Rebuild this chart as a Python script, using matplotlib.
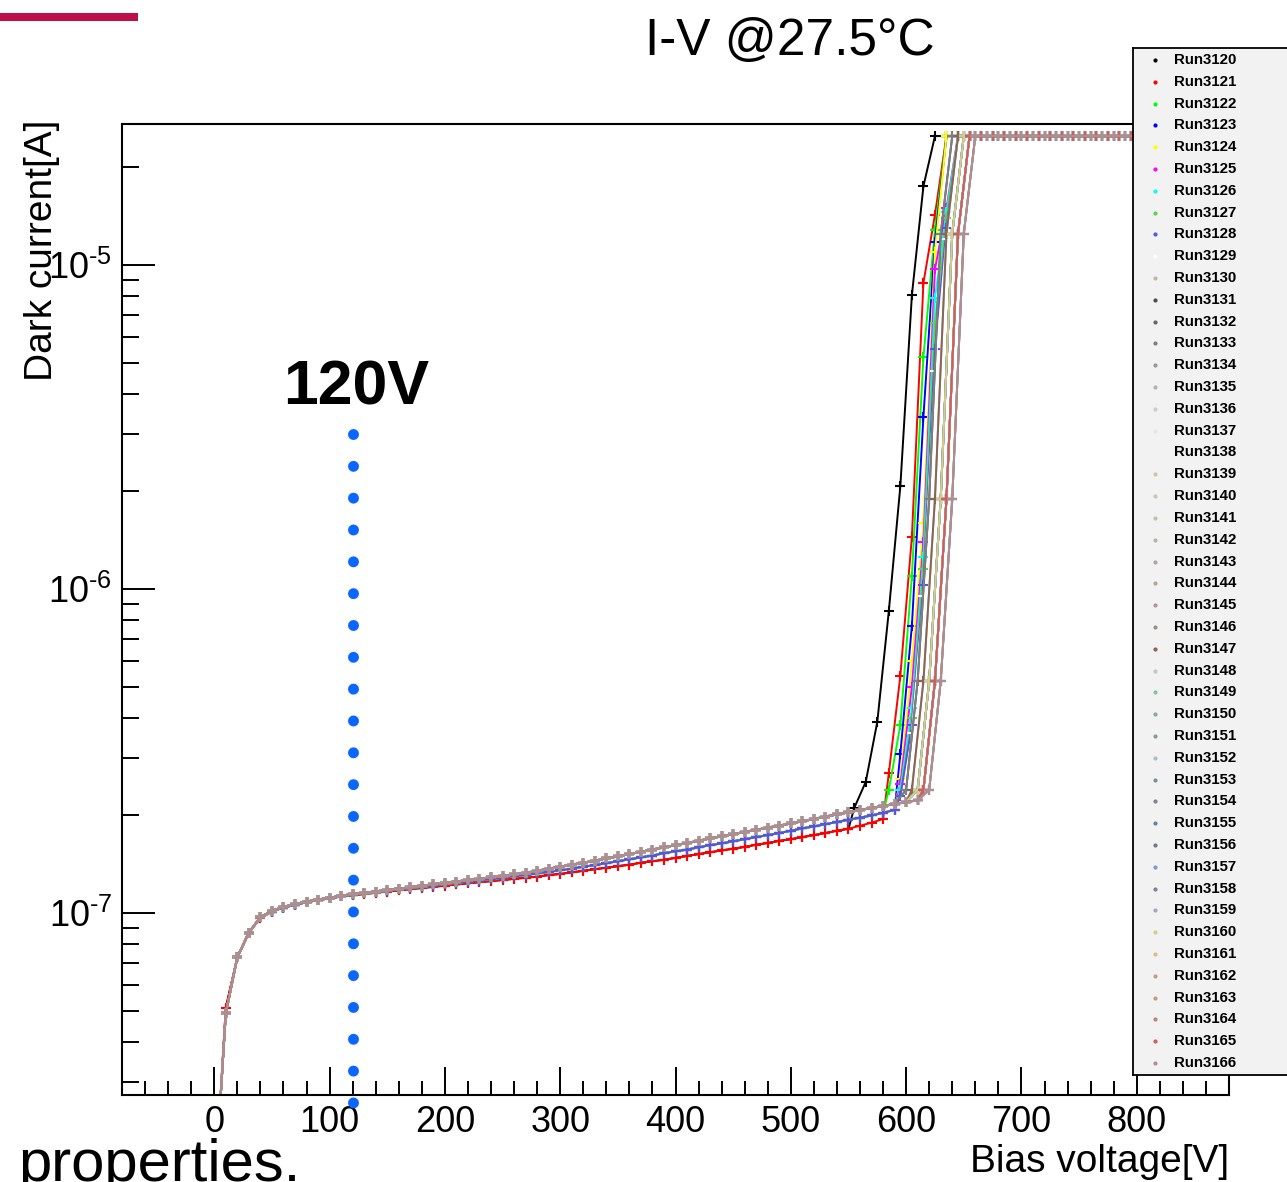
import matplotlib
matplotlib.use('Agg')
import matplotlib.pyplot as plt
from matplotlib.ticker import MultipleLocator, FixedLocator, NullFormatter, FixedFormatter
from matplotlib.patches import Rectangle

W, H = 1287, 1182
plt.rcParams['font.family'] = ['Liberation Sans', 'DejaVu Sans']
plt.rcParams['mathtext.fontset'] = 'custom'
plt.rcParams['mathtext.rm'] = 'Liberation Sans'
plt.rcParams['mathtext.default'] = 'regular'
plt.rcParams['axes.unicode_minus'] = False

# ---------------- data ----------------
run_names = ['Run%d' % n for n in range(3120, 3167)]
run_colors = ['#000000', '#ff0000', '#00ff00', '#0000ff', '#ffff00', '#ff00ff', '#00ffff',
              '#59d454', '#5954d9', '#fefefe', '#c0b6ac', '#4d4d4d', '#666666', '#7f7f7f',
              '#999999', '#b3b3b3', '#cccccc', '#e6e6e6', '#f2f2f2', '#ccc7ab', '#ccc7ab',
              '#c2bfa8', '#bab5a3', '#b3a696', '#b8a39c', '#ad998c', '#9c8f82', '#876657',
              '#b0cfc7', '#85c2a3', '#8aa8a1', '#829e8c', '#adbdc7', '#7a8f99', '#758a91',
              '#698296', '#6e7a85', '#7d99d1', '#808099', '#aba6bf', '#d4cf87', '#deba87',
              '#bd9e82', '#c7997d', '#bf8278', '#cf5e61', '#ab8f94']

# common measurement grid below breakdown (V)
voltage_grid = list(range(0, 640, 10))

# dark current before breakdown [A] (upper, middle and lower envelopes of the bundle)
base_high = [1.3e-8, 4.9e-8, 7.3e-8, 8.7e-8, 9.7e-8, 1.015e-7, 1.045e-7, 1.065e-7, 1.085e-7, 1.10e-7,
             1.115e-7, 1.13e-7, 1.145e-7, 1.155e-7, 1.165e-7, 1.18e-7, 1.19e-7, 1.20e-7, 1.215e-7, 1.225e-7,
             1.24e-7, 1.25e-7, 1.265e-7, 1.275e-7, 1.29e-7, 1.30e-7, 1.315e-7, 1.33e-7, 1.35e-7, 1.37e-7,
             1.39e-7, 1.41e-7, 1.43e-7, 1.45e-7, 1.475e-7, 1.495e-7, 1.52e-7, 1.545e-7, 1.57e-7, 1.595e-7,
             1.62e-7, 1.645e-7, 1.67e-7, 1.70e-7, 1.725e-7, 1.75e-7, 1.78e-7, 1.805e-7, 1.835e-7, 1.86e-7,
             1.89e-7, 1.92e-7, 1.95e-7, 1.985e-7, 2.015e-7, 2.045e-7, 2.08e-7, 2.11e-7, 2.14e-7, 2.17e-7,
             2.20e-7, 2.23e-7, 2.26e-7, 2.29e-7]
base_mid = [1.3e-8, 4.9e-8, 7.3e-8, 8.7e-8, 9.7e-8, 1.01e-7, 1.04e-7, 1.06e-7, 1.08e-7, 1.10e-7,
            1.11e-7, 1.125e-7, 1.14e-7, 1.15e-7, 1.16e-7, 1.17e-7, 1.185e-7, 1.195e-7, 1.205e-7, 1.215e-7,
            1.23e-7, 1.24e-7, 1.25e-7, 1.26e-7, 1.275e-7, 1.285e-7, 1.30e-7, 1.31e-7, 1.325e-7, 1.34e-7,
            1.355e-7, 1.37e-7, 1.39e-7, 1.405e-7, 1.425e-7, 1.445e-7, 1.465e-7, 1.485e-7, 1.505e-7, 1.53e-7,
            1.55e-7, 1.57e-7, 1.595e-7, 1.62e-7, 1.64e-7, 1.665e-7, 1.69e-7, 1.715e-7, 1.74e-7, 1.765e-7,
            1.795e-7, 1.825e-7, 1.85e-7, 1.88e-7, 1.91e-7, 1.94e-7, 1.97e-7, 2.00e-7, 2.04e-7, 2.08e-7,
            2.12e-7, 2.16e-7, 2.20e-7, 2.24e-7]
base_low = [1.3e-8, 5.1e-8, 7.3e-8, 8.7e-8, 9.65e-8, 1.01e-7, 1.04e-7, 1.06e-7, 1.08e-7, 1.095e-7,
            1.11e-7, 1.125e-7, 1.135e-7, 1.145e-7, 1.155e-7, 1.165e-7, 1.175e-7, 1.185e-7, 1.195e-7, 1.205e-7,
            1.215e-7, 1.225e-7, 1.235e-7, 1.245e-7, 1.255e-7, 1.265e-7, 1.275e-7, 1.285e-7, 1.295e-7, 1.31e-7,
            1.32e-7, 1.335e-7, 1.35e-7, 1.365e-7, 1.38e-7, 1.395e-7, 1.41e-7, 1.43e-7, 1.445e-7, 1.46e-7,
            1.48e-7, 1.50e-7, 1.52e-7, 1.54e-7, 1.56e-7, 1.58e-7, 1.60e-7, 1.625e-7, 1.645e-7, 1.67e-7,
            1.69e-7, 1.715e-7, 1.74e-7, 1.765e-7, 1.795e-7, 1.82e-7, 1.86e-7, 1.90e-7, 1.95e-7, 2.00e-7,
            2.05e-7, 2.10e-7, 2.15e-7, 2.20e-7]
run_base = ['low', 'low'] + ['mid'] * 7 + ['high'] * 38

# breakdown tails [A], 10 V steps starting at tail_start
tail_black = [2.11e-7, 2.54e-7, 3.89e-7, 8.55e-7, 2.08e-6, 8.07e-6, 1.75e-5, 2.5e-5]
tail_red = [2.7e-7, 5.4e-7, 1.45e-6, 8.8e-6, 1.43e-5, 2.5e-5]
tail_green = [2.4e-7, 3.8e-7, 1.1e-6, 5.2e-6, 1.28e-5, 2.5e-5]
tail_blue = [3.1e-7, 7.7e-7, 3.4e-6, 1.18e-5, 2.5e-5]
tail_yellow = [2.6e-7, 6.0e-7, 1.6e-6, 1.1e-5, 2.5e-5]
tail_magenta = [2.5e-7, 5.0e-7, 1.4e-6, 9.7e-6, 1.5e-5, 2.5e-5]
tail_cyan = [2.4e-7, 4.3e-7, 1.26e-6, 7.9e-6, 1.46e-5, 2.5e-5]
tail_3127 = [2.3e-7, 4.0e-7, 1.15e-6, 6.6e-6, 1.4e-5, 2.5e-5]
tail_3128 = [2.3e-7, 3.8e-7, 1.03e-6, 5.5e-6, 1.3e-5, 2.5e-5]
tail_white = [3.6e-7, 9.5e-7, 4.7e-6, 1.2e-5, 2.5e-5]
tail_gray = [2.4e-7, 5.2e-7, 1.9e-6, 1.25e-5, 2.5e-5]
run_tail = ['black', 'red', 'green', 'blue', 'yellow', 'magenta', 'cyan', '3127', '3128', 'white'] + ['gray'] * 37
tail_start = [555, 585, 585, 595, 595, 595, 595, 595, 595, 605,
              610, 600, 610, 600, 615, 610, 615, 610, 615, 610,
              615, 610, 615, 605, 615, 610, 615, 605, 610, 615,
              610, 615, 610, 615, 620, 610, 615, 610, 615, 620,
              610, 615, 620, 615, 620, 615, 620]
compliance = 2.5e-5
v_last = 800

x_ticks = [0, 100, 200, 300, 400, 500, 600, 700, 800]
y_ticks = [1e-7, 1e-6, 1e-5]
y_tick_labels = ['10$^{\\text{-7}}$', '10$^{\\text{-6}}$', '10$^{\\text{-5}}$']
marker_voltage = 120

# ---------------- figure ----------------
fig = plt.figure(figsize=(W / 100, H / 100), dpi=100)

def fx(x):
    return x / W

def fy(y):
    return 1 - y / H

ax = fig.add_axes([fx(122), fy(1095), fx(1229) - fx(122), fy(124) - fy(1095)])
ax.set_yscale('log')
ax.set_xlim(-80, 880)
ax.set_ylim(2.744e-8, 2.724e-5)

bases = {'low': base_low, 'mid': base_mid, 'high': base_high}
tails = {'black': tail_black, 'red': tail_red, 'green': tail_green, 'blue': tail_blue,
         'yellow': tail_yellow, 'magenta': tail_magenta, 'cyan': tail_cyan,
         '3127': tail_3127, '3128': tail_3128, 'white': tail_white, 'gray': tail_gray}

for i, name in enumerate(run_names):
    b = bases[run_base[i]]
    s = tail_start[i]
    v = [vv for vv in voltage_grid if vv < s]
    c = list(b[:len(v)])
    t = tails[run_tail[i]]
    v += [s + 10 * k for k in range(len(t))]
    c += list(t)
    flat_v = list(range(v[-1] + 10, v_last + 1, 10))
    v += flat_v
    c += [compliance] * len(flat_v)
    ax.plot(v, c, color=run_colors[i], lw=1.4, marker='+', ms=7, mew=1.5, zorder=2 + i * 0.01)

# dotted 120 V marker line
ax.plot([marker_voltage, marker_voltage], [3.01e-6, 2.5e-8], color='#0a66ff', lw=7.9,
        linestyle=(0, (0.001, 2.9)), dash_capstyle='round', clip_on=False, zorder=5)

# axes styling (ROOT-like)
for sp in ax.spines.values():
    sp.set_linewidth(1.5)
ax.xaxis.set_major_locator(FixedLocator(x_ticks))
ax.xaxis.set_minor_locator(MultipleLocator(20))
ax.yaxis.set_major_locator(FixedLocator(y_ticks))
ax.yaxis.set_major_formatter(FixedFormatter(y_tick_labels))
ax.yaxis.set_minor_locator(FixedLocator([m * 10.0 ** e for e in (-8, -7, -6, -5) for m in range(2, 10)]))
ax.yaxis.set_minor_formatter(NullFormatter())
ax.tick_params(axis='x', which='major', direction='in', length=20, width=1.4, labelsize=26, pad=7,
               top=False, bottom=True)
ax.tick_params(axis='x', which='minor', direction='in', length=10, width=1.4, top=False)
ax.tick_params(axis='y', which='major', direction='in', length=24, width=1.4, labelsize=26, pad=7,
               right=False, left=True)
ax.tick_params(axis='y', which='minor', direction='in', length=12, width=1.4, right=False)

# texts
fig.text(fx(790), fy(42), 'I-V @27.5°C', ha='center', va='center', fontsize=37)
fig.text(fx(42), fy(120), 'Dark current[A]', rotation=90, ha='center', va='top', fontsize=28)
fig.text(fx(1229), fy(1162), 'Bias voltage[V]', ha='right', va='center', fontsize=28)
fig.text(fx(356), fy(388), '120V', ha='center', va='center', fontsize=45, fontweight='bold')
fig.text(fx(18), fy(1181), 'properties.', ha='left', va='baseline', fontsize=43)
fig.patches.append(Rectangle((0, fy(21)), fx(138), fy(13) - fy(21), transform=fig.transFigure,
                             facecolor='#be0f4a', edgecolor='none'))

# legend box
lax = fig.add_axes([fx(1133), fy(1075), fx(1300) - fx(1133), fy(48) - fy(1075)])
lax.set_xlim(1133, 1300)
lax.set_ylim(1075, 48)
lax.set_facecolor('#f2f2f2')
for sp in lax.spines.values():
    sp.set_linewidth(1.3)
lax.set_xticks([])
lax.set_yticks([])
n = len(run_names)
for i, name in enumerate(run_names):
    yy = 60 + i * (1063 - 60) / (n - 1)
    lax.plot([1155], [yy], marker='o', ms=3, color=run_colors[i], mec='none')
    lax.text(1174, yy, name, ha='left', va='center', fontsize=10.8, fontweight='bold')

fig.savefig('out.png', dpi=100)
